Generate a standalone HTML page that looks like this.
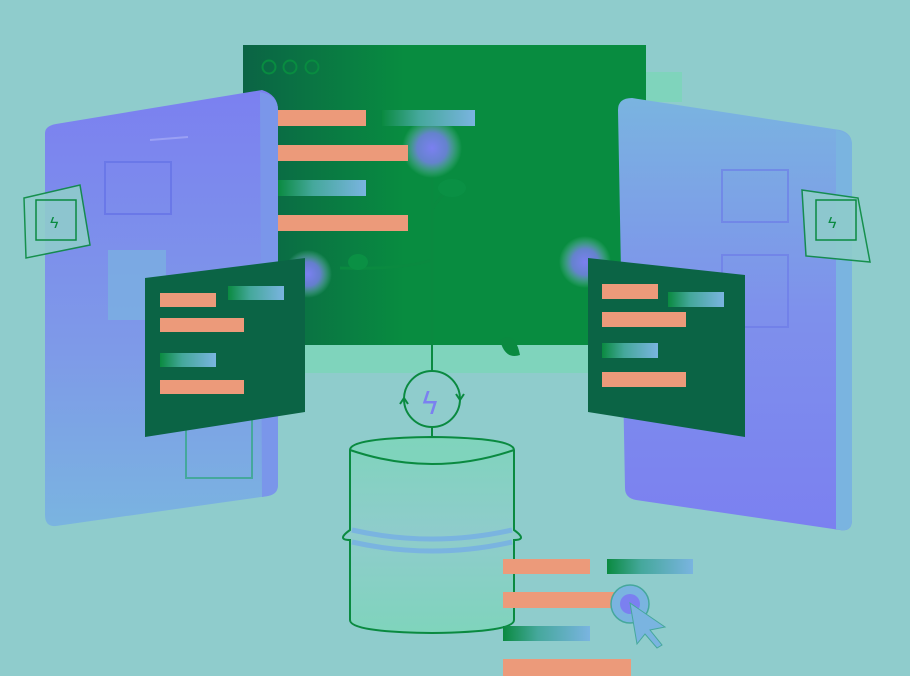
<!DOCTYPE html>
<html><head><style>html,body{margin:0;padding:0;background:#8fcccc;}svg{display:block}</style></head>
<body>
<svg width="910" height="676" viewBox="0 0 910 676" xmlns="http://www.w3.org/2000/svg">
<defs>
<linearGradient id="ph" x1="0" y1="0" x2="0" y2="1"><stop offset="0" stop-color="#7b80f0"/><stop offset="0.6" stop-color="#7e9ae8"/><stop offset="1" stop-color="#7ab4e0"/></linearGradient>
<linearGradient id="phr" x1="0" y1="0" x2="0" y2="1"><stop offset="0" stop-color="#7ab4e0"/><stop offset="0.5" stop-color="#7e90ec"/><stop offset="1" stop-color="#7b80f0"/></linearGradient>
<linearGradient id="tb" x1="0" x2="1"><stop offset="0" stop-color="#0a8a40"/><stop offset="0.4" stop-color="#45a89c"/><stop offset="1" stop-color="#7ab4e0"/></linearGradient>
<radialGradient id="gl"><stop offset="0" stop-color="#7b80f0"/><stop offset="0.5" stop-color="#7b80f0" stop-opacity="0.8"/><stop offset="1" stop-color="#7fd4bc" stop-opacity="0"/></radialGradient>
<linearGradient id="mw" x1="0" x2="1"><stop offset="0" stop-color="#0b6445"/><stop offset="0.4" stop-color="#088c40"/><stop offset="1" stop-color="#088c40"/></linearGradient>
<linearGradient id="db" x1="0" y1="0" x2="0" y2="1"><stop offset="0" stop-color="#7fd4bc"/><stop offset="0.5" stop-color="#8fcccc"/><stop offset="1" stop-color="#7fd4bc"/></linearGradient>
</defs>
<rect x="305" y="340" width="285" height="33" fill="#7fd4bc"/>
<rect x="243" y="45" width="403" height="300" fill="url(#mw)"/>
<rect x="646" y="72" width="36" height="30" fill="#7fd4bc"/>
<circle cx="269" cy="67" r="6.5" fill="none" stroke="#088c40" stroke-width="2"/>
<circle cx="290" cy="67" r="6.5" fill="none" stroke="#088c40" stroke-width="2"/>
<circle cx="312" cy="67" r="6.5" fill="none" stroke="#088c40" stroke-width="2"/>
<path d="M432 345 V150 M432 210 Q440 195 460 180 M432 260 Q400 270 340 268" stroke="#0a8a40" stroke-width="3" fill="none"/>
<ellipse cx="452" cy="188" rx="14" ry="9" fill="#0a9044"/>
<ellipse cx="358" cy="262" rx="10" ry="8" fill="#0a9044"/>
<path d="M500 340 Q515 330 520 355 Q505 360 500 340Z" fill="#0a8a40"/>
<circle cx="432" cy="148" r="30" fill="url(#gl)"/>
<circle cx="308" cy="274" r="24" fill="url(#gl)"/>
<circle cx="585" cy="262" r="26" fill="url(#gl)"/>
<rect x="278" y="110" width="88" height="16" fill="#ec9a7a"/>
<rect x="382" y="110" width="93" height="16" fill="url(#tb)"/>
<rect x="278" y="145" width="130" height="16" fill="#ec9a7a"/>
<rect x="278" y="180" width="88" height="16" fill="url(#tb)"/>
<rect x="278" y="215" width="130" height="16" fill="#ec9a7a"/>
<!-- left phone -->
<path d="M45 133 Q45 126 56 124 L262 90 Q278 95 278 110 L278 485 Q278 494 268 496 L56 526 Q45 527 45 515Z" fill="url(#ph)"/>
<path d="M260 92 Q278 95 278 110 L278 485 Q278 494 268 496 L262 497Z" fill="#7a96ea"/>
<rect x="105" y="162" width="66" height="52" fill="none" stroke="#6a78e8" stroke-width="2"/>
<rect x="108" y="250" width="58" height="70" fill="#7ab4e0" opacity="0.7"/>
<rect x="186" y="410" width="66" height="68" fill="none" stroke="#45a89c" stroke-width="2"/>
<path d="M150 140 L188 137" stroke="#9aa0f4" stroke-width="2"/>
<path d="M24 198 L80 185 L90 245 L26 258Z" fill="#8fcccc" stroke="#0a8a40" stroke-width="1.5" opacity="0.9"/>
<rect x="36" y="200" width="40" height="40" fill="none" stroke="#0a8a40" stroke-width="1.5"/>
<text x="50" y="228" font-family="Liberation Sans,sans-serif" font-size="16" fill="#0a8a40">ϟ</text>
<!-- right phone -->
<path d="M618 110 Q618 98 632 98 L840 130 Q852 133 852 145 L852 520 Q852 532 840 530 L636 500 Q625 498 625 488Z" fill="url(#phr)"/>
<path d="M836 130 Q852 133 852 145 L852 520 Q852 532 840 530 L836 529Z" fill="#7ab4e0"/>
<rect x="722" y="170" width="66" height="52" fill="none" stroke="#6a78e8" stroke-width="2" opacity="0.6"/>
<rect x="722" y="255" width="66" height="72" fill="none" stroke="#6a78e8" stroke-width="2" opacity="0.6"/>
<path d="M802 190 L858 198 L870 262 L806 256Z" fill="#8fcccc" stroke="#0a8a40" stroke-width="1.5" opacity="0.9"/>
<rect x="816" y="200" width="40" height="40" fill="none" stroke="#0a8a40" stroke-width="1.5"/>
<text x="828" y="228" font-family="Liberation Sans,sans-serif" font-size="16" fill="#0a8a40">ϟ</text>
<!-- left card -->
<path d="M145 278 L305 258 L305 412 L145 437Z" fill="#0b6445"/>
<rect x="160" y="293" width="56" height="14" fill="#ec9a7a"/>
<rect x="228" y="286" width="56" height="14" fill="url(#tb)"/>
<rect x="160" y="318" width="84" height="14" fill="#ec9a7a"/>
<rect x="160" y="353" width="56" height="14" fill="url(#tb)"/>
<rect x="160" y="380" width="84" height="14" fill="#ec9a7a"/>
<!-- right card -->
<path d="M588 258 L745 275 L745 437 L588 412Z" fill="#0b6445"/>
<rect x="602" y="284" width="56" height="15" fill="#ec9a7a"/>
<rect x="668" y="292" width="56" height="15" fill="url(#tb)"/>
<rect x="602" y="312" width="84" height="15" fill="#ec9a7a"/>
<rect x="602" y="343" width="56" height="15" fill="url(#tb)"/>
<rect x="602" y="372" width="84" height="15" fill="#ec9a7a"/>
<!-- sync -->
<line x1="432" y1="345" x2="432" y2="440" stroke="#0a8a40" stroke-width="2"/>
<circle cx="432" cy="399" r="28" fill="#8fcccc" stroke="#0a8a40" stroke-width="2"/>
<path d="M400 404 l4 -6 l4 6 M456 394 l4 6 l4 -6" stroke="#0a8a40" stroke-width="2" fill="none"/>
<text x="420" y="414" font-family="DejaVu Sans,sans-serif" font-size="30" fill="#7b80f0">ϟ</text>
<!-- database -->
<path d="M350 450 Q350 438 432 437 Q514 438 514 450 L514 530 Q528 540 514 540 L514 620 Q514 632 432 633 Q350 632 350 620 L350 540 Q336 540 350 530Z" fill="url(#db)" stroke="#0a8a40" stroke-width="2"/>
<path d="M350 450 Q432 478 514 450" fill="#7fd4bc" stroke="#0a8a40" stroke-width="2"/>
<path d="M352 530 Q432 548 512 530" stroke="#7ab4e0" stroke-width="5" fill="none"/>
<path d="M352 542 Q432 560 512 542" stroke="#7ab4e0" stroke-width="5" fill="none"/>
<!-- bottom bars -->
<rect x="503" y="559" width="87" height="15" fill="#ec9a7a"/>
<rect x="607" y="559" width="86" height="15" fill="url(#tb)"/>
<rect x="503" y="592" width="112" height="16" fill="#ec9a7a"/>
<rect x="503" y="626" width="87" height="15" fill="url(#tb)"/>
<rect x="503" y="659" width="128" height="17" fill="#ec9a7a"/>
<circle cx="630" cy="604" r="19" fill="#7ab4e0" stroke="#45a89c" stroke-width="1.5"/>
<circle cx="630" cy="604" r="10" fill="#7b80f0"/>
<path d="M630 603 L665 627 L650 630 L662 645 L657 648 L645 634 L637 644Z" fill="#7ab4e0" stroke="#45a89c" stroke-width="1"/>
</svg>
</body></html>
